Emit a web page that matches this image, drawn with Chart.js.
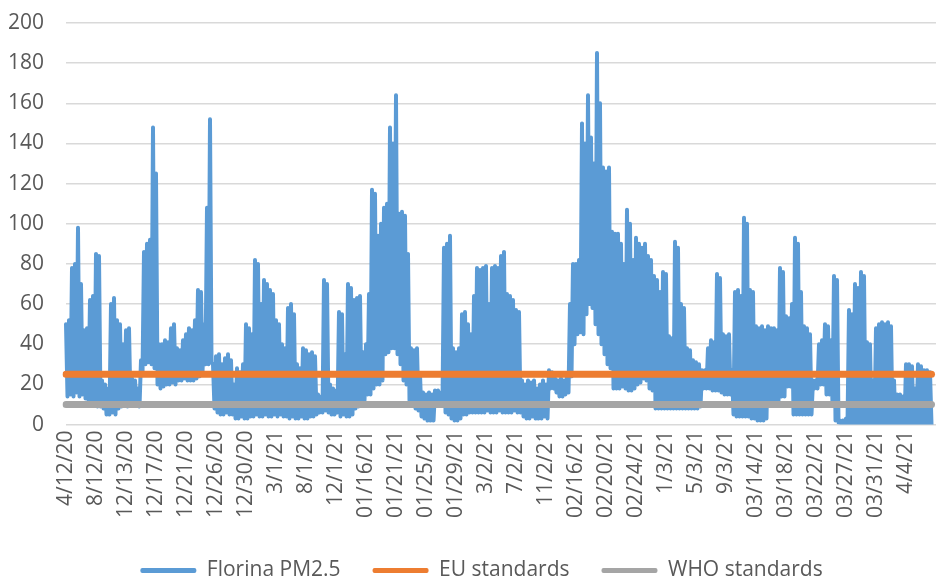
<!DOCTYPE html>
<html>
<head>
<meta charset="utf-8">
<script src="https://cdn.jsdelivr.net/npm/chart.js@4.4.1/dist/chart.umd.min.js"></script>
<style>
  html, body { margin: 0; padding: 0; background: #fff; }
  canvas { display: block; }
</style>
</head>
<body>
<canvas id="chart" width="945" height="588"></canvas>
<script>
// tick labels under the x axis, one every 20 readings
const dateLabels = [
  "4/12/20", "8/12/20", "12/13/20", "12/17/20", "12/21/20", "12/26/20", "12/30/20",
  "3/1/21", "8/1/21", "12/1/21", "01/16/21", "01/21/21", "01/25/21", "01/29/21",
  "3/2/21", "7/2/21", "11/2/21", "02/16/21", "02/20/21", "02/24/21", "1/3/21",
  "5/3/21", "9/3/21", "03/14/21", "03/18/21", "03/22/21", "03/27/21", "03/31/21", "4/4/21"
];

const florinaPM25 = [
  50, 14, 52, 15, 78, 14, 80, 16, 98, 14, 70, 15, 47, 13, 48, 12, 62, 10, 64, 11,
  85, 9, 84, 9, 22, 8, 20, 5, 18, 5, 60, 6, 63, 5, 52, 8, 50, 9, 40, 10,
  47, 9, 48, 10, 23, 11, 22, 10, 18, 9, 32, 25, 86, 30, 90, 31, 92, 30, 148, 28,
  125, 20, 40, 18, 40, 19, 42, 20, 41, 20, 48, 21, 50, 20, 38, 22, 37, 22, 42, 23,
  45, 22, 48, 22, 47, 22, 52, 23, 67, 24, 66, 26, 50, 30, 108, 30, 152, 31, 30, 8,
  34, 6, 35, 5, 30, 5, 33, 6, 35, 5, 32, 5, 20, 3, 28, 3, 26, 4, 30, 3,
  50, 3, 48, 4, 45, 4, 82, 5, 80, 4, 60, 4, 72, 5, 70, 4, 67, 4, 65, 5,
  52, 4, 50, 5, 40, 4, 38, 4, 58, 3, 60, 4, 55, 3, 30, 3, 28, 4, 38, 3,
  37, 3, 35, 4, 36, 4, 34, 5, 15, 6, 14, 6, 72, 7, 70, 6, 20, 5, 18, 5,
  17, 6, 56, 4, 55, 5, 35, 4, 70, 4, 68, 5, 62, 8, 63, 9, 64, 10, 36, 12,
  40, 15, 65, 15, 117, 18, 115, 20, 94, 20, 100, 22, 108, 35, 110, 36, 148, 38, 140, 38,
  164, 35, 105, 30, 106, 22, 104, 20, 85, 12, 38, 10, 37, 8, 38, 7, 25, 4, 16, 3,
  15, 2, 16, 2, 15, 2, 17, 12, 17, 11, 16, 10, 88, 6, 90, 5, 94, 3, 38, 2,
  36, 2, 38, 3, 55, 5, 56, 5, 50, 6, 45, 6, 64, 6, 78, 6, 77, 6, 78, 6,
  79, 7, 60, 6, 78, 6, 79, 6, 78, 7, 84, 6, 86, 6, 65, 6, 64, 6, 62, 7,
  57, 6, 56, 6, 22, 4, 20, 3, 22, 3, 21, 4, 22, 3, 18, 3, 20, 3, 22, 4,
  20, 3, 27, 18, 26, 18, 23, 16, 22, 14, 23, 14, 22, 15, 24, 16, 60, 24, 80, 40,
  80, 45, 82, 46, 150, 45, 140, 55, 164, 60, 143, 58, 130, 50, 185, 45, 160, 40, 128, 35,
  126, 30, 128, 28, 96, 18, 95, 18, 95, 18, 90, 19, 80, 18, 107, 17, 100, 17, 82, 18,
  93, 20, 90, 21, 88, 23, 90, 22, 84, 18, 82, 17, 74, 8, 72, 8, 66, 8, 76, 8,
  75, 8, 44, 8, 43, 8, 91, 8, 88, 8, 60, 8, 58, 8, 38, 8, 37, 8, 32, 8,
  31, 8, 30, 9, 27, 18, 27, 18, 38, 18, 42, 17, 41, 17, 75, 17, 73, 16, 45, 15,
  44, 15, 45, 15, 27, 5, 66, 4, 67, 4, 64, 4, 103, 4, 100, 4, 67, 3, 66, 3,
  49, 2, 48, 2, 49, 2, 47, 3, 49, 12, 48, 12, 48, 12, 47, 12, 78, 14, 76, 14,
  54, 19, 53, 19, 60, 5, 93, 5, 90, 5, 66, 5, 49, 5, 48, 5, 45, 5, 22, 18,
  22, 18, 40, 20, 42, 20, 50, 15, 49, 15, 42, 10, 74, 2, 72, 1, 2, 0, 2, 0,
  3, 0, 57, 0, 55, 0, 70, 0, 68, 0, 76, 0, 74, 0, 41, 0, 40, 0, 22, 0,
  48, 0, 50, 0, 51, 0, 50, 0, 51, 0, 49, 0, 22, 0, 15, 0, 15, 0, 14, 0,
  30, 0, 30, 0, 29, 0, 18, 0, 30, 0, 29, 0, 27, 0, 27, 0, 26, 0
];

const EU_LIMIT = 25;
const WHO_LIMIT = 10;

// one slot per reading, a few empty slots close the axis on the right
const slots = florinaPM25.length + 3;
const labels = [];
for (let i = 0; i < slots; i++) {
  labels.push(i % 20 === 0 && dateLabels[i / 20] ? dateLabels[i / 20] : "");
}
const euLine = florinaPM25.map(() => EU_LIMIT);
const whoLine = florinaPM25.map(() => WHO_LIMIT);

const textColor = "#595959";
const font = { family: "'Open Sans', sans-serif", size: 21 };

new Chart(document.getElementById("chart"), {
  type: "line",
  data: {
    labels: labels,
    datasets: [
      {
        label: "Florina PM2.5",
        data: florinaPM25,
        borderColor: "#5b9bd5",
        backgroundColor: "#5b9bd5",
        borderWidth: 4,
        borderJoinStyle: "round",
        borderCapStyle: "round",
        pointRadius: 0,
        tension: 0,
        order: 3,
      },
      {
        label: "EU standards",
        data: euLine,
        borderColor: "#ed7d31",
        backgroundColor: "#ed7d31",
        borderWidth: 7,
        borderCapStyle: "round",
        pointRadius: 0,
        order: 1,
      },
      {
        label: "WHO standards",
        data: whoLine,
        borderColor: "#a5a5a5",
        backgroundColor: "#a5a5a5",
        borderWidth: 7,
        borderCapStyle: "round",
        pointRadius: 0,
        order: 2,
      },
    ],
  },
  options: {
    responsive: false,
    animation: false,
    layout: { padding: { top: 23, left: 8, right: -10, bottom: -3 } },
    plugins: {
      tooltip: { enabled: false },
      legend: {
        position: "bottom",
        labels: {
          color: textColor,
          font: font,
          boxWidth: 56,
          boxHeight: 5,
          padding: 32,
          useBorderRadius: true,
          borderRadius: 2,
          sort: (a, b) => a.datasetIndex - b.datasetIndex,
          generateLabels: (chart) =>
            Chart.defaults.plugins.legend.labels
              .generateLabels(chart)
              .map((item) => ({ ...item, lineWidth: 0 })),
        },
      },
    },
    scales: {
      x: {
        grid: { display: false, drawTicks: false },
        border: { display: false },
        afterFit: (scale) => {
          scale.paddingLeft = 0;
          scale.paddingRight = 9;
          scale.height += 4;
        },
        ticks: {
          autoSkip: false,
          maxRotation: 90,
          minRotation: 90,
          padding: 6,
          color: textColor,
          font: font,
        },
      },
      y: {
        min: 0,
        max: 200,
        grid: { color: "#d9d9d9", lineWidth: 1.5, drawTicks: false },
        border: { display: false },
        afterFit: (scale) => {
          scale.paddingTop = 0;
          scale.paddingBottom = 0;
          scale.width = 58;
        },
        ticks: {
          stepSize: 20,
          padding: 22,
          color: textColor,
          font: font,
        },
      },
    },
  },
});
</script>
</body>
</html>
